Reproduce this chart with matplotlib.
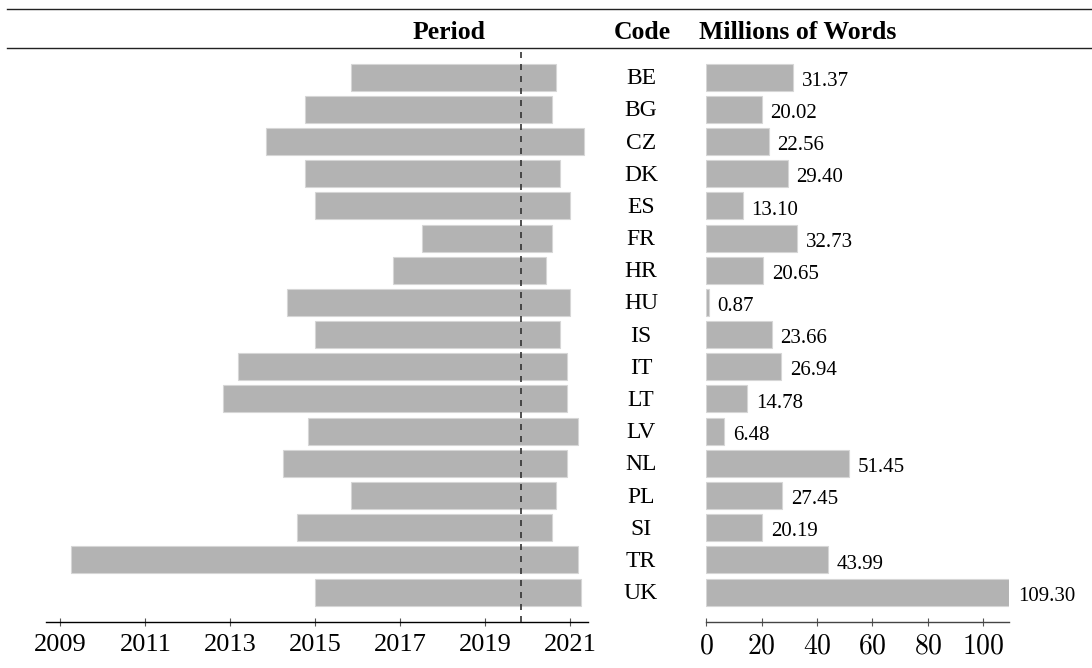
import matplotlib
matplotlib.use("Agg")
import matplotlib.pyplot as plt
import matplotlib.transforms as mtransforms
from matplotlib.lines import Line2D

codes = ["BE", "BG", "CZ", "DK", "ES", "FR", "HR", "HU", "IS", "IT",
         "LT", "LV", "NL", "PL", "SI", "TR", "UK"]
period_start = [2015.83, 2014.75, 2013.83, 2014.75, 2015.00, 2017.50, 2016.83,
                2014.33, 2015.00, 2013.17, 2012.83, 2014.83, 2014.25, 2015.83,
                2014.58, 2009.25, 2015.00]
period_end = [2020.67, 2020.58, 2021.33, 2020.75, 2021.00, 2020.58, 2020.42,
              2021.00, 2020.75, 2020.92, 2020.92, 2021.17, 2020.92, 2020.67,
              2020.58, 2021.17, 2021.25]
million_words = [31.37, 20.02, 22.56, 29.40, 13.10, 32.73, 20.65, 0.87, 23.66,
                 26.94, 14.78, 6.48, 51.45, 27.45, 20.19, 43.99, 109.30]
ref_date = 2019.83
year_ticks = [2009, 2011, 2013, 2015, 2017, 2019, 2021]
word_ticks = [0, 20, 40, 60, 80, 100]

plt.rcParams['font.family'] = ['Liberation Serif', 'DejaVu Serif']
plt.rcParams['mathtext.fontset'] = 'cm'

W, H = 1092, 668
fig = plt.figure(figsize=(W / 100, H / 100), dpi=100)

ax_top, ax_bot = 47.5, 621.7
axL = fig.add_axes([46.3 / W, 1 - ax_bot / H, (587.7 - 46.3) / W, (ax_bot - ax_top) / H])
axR = fig.add_axes([706.3 / W, 1 - ax_bot / H, (1009 - 706.3) / W, (ax_bot - ax_top) / H])

n = len(codes)
ys = list(range(n))
bar_color = '#b3b3b3'
edge = '#d6d6d6'
bh = 0.84

lefts = period_start
widths = [e - s for s, e in zip(period_start, period_end)]
axL.barh(ys, widths, left=lefts, height=bh, color=bar_color, edgecolor=edge, linewidth=0.8)
axL.axvline(ref_date, color='#333333', lw=1.2, ls=(0, (3.6, 3.6)), zorder=3)
axL.set_xlim(2008.67, 2021.41)
axL.set_ylim(n - 1 + 0.92, -0.92)

axR.barh(ys, million_words, height=bh, color=bar_color, edgecolor=edge, linewidth=0.8)
axR.set_xlim(0, 109.3)
axR.set_ylim(n - 1 + 0.92, -0.92)
for i, v in enumerate(million_words):
    axR.annotate(f"{v:.2f}", xy=(v, i + 0.27), xytext=(6.3, 0), textcoords='offset points',
                 ha='left', va='baseline', fontsize=15, clip_on=False)

for ax in (axL, axR):
    for s in ('top', 'right', 'left'):
        ax.spines[s].set_visible(False)
    ax.set_yticks([])
    ax.tick_params(axis='x', direction='inout', length=6, width=0.8, color='#555555', pad=6)

axL.spines['bottom'].set_color('black')
axL.spines['bottom'].set_linewidth(1.0)
axR.spines['bottom'].set_color('#444444')
axR.spines['bottom'].set_linewidth(1.0)

axL.set_xticks(year_ticks)
axL.set_xticklabels([str(t) for t in year_ticks], fontsize=19)
axR.set_xticks(word_ticks)
axR.set_xticklabels([f"${t}$" for t in word_ticks], fontsize=20)

# code labels between the panels
trans = mtransforms.blended_transform_factory(fig.transFigure, axL.transData)
for i, c in enumerate(codes):
    fig.text(641 / W, i + 0.22, c, transform=trans, ha='center', va='baseline', fontsize=17)

# header
base = 1 - 39.3 / H
fig.text(449 / W, base, "Period", ha='center', va='baseline', fontsize=18.5, fontweight='bold')
fig.text(642.5 / W, base, "Code", ha='center', va='baseline', fontsize=18.5, fontweight='bold')
fig.text(699 / W, base, "Millions of Words", ha='left', va='baseline', fontsize=18.5, fontweight='bold')

for yl in (9.3, 47.5):
    fig.add_artist(Line2D([7 / W, 1.0], [1 - yl / H, 1 - yl / H], transform=fig.transFigure,
                          color='#222222', lw=1.0))

fig.savefig("out.png", dpi=100)
